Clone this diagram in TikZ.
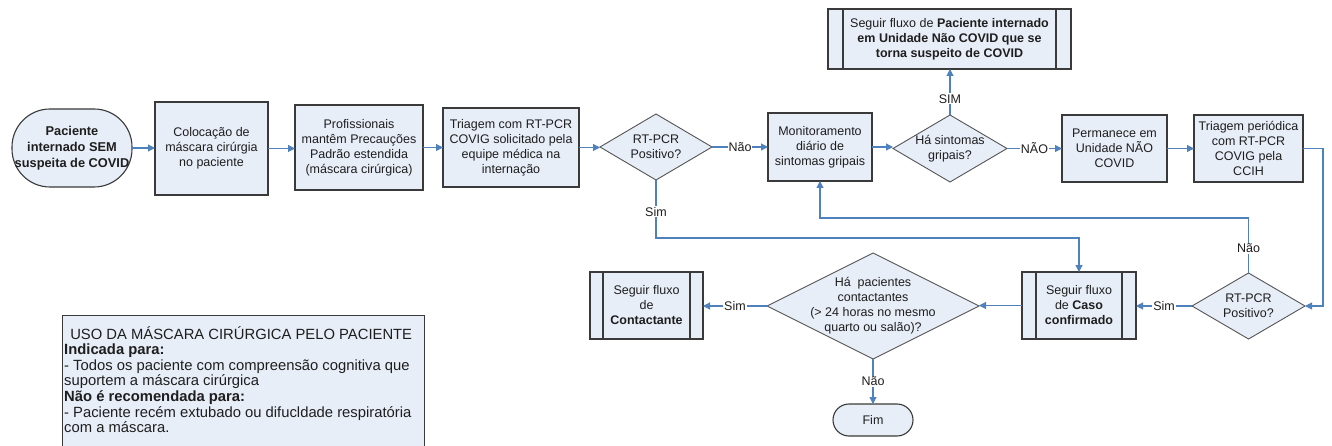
\documentclass[tikz,border=0pt]{standalone}
\usepackage{fontspec}
\setmainfont{Liberation Sans}
\usetikzlibrary{shapes.geometric,arrows.meta}
\definecolor{boxfill}{HTML}{E8EEF8}
\definecolor{boxline}{HTML}{3A3A3A}
\definecolor{diamline}{HTML}{555555}
\definecolor{arr}{HTML}{4F81BD}
\definecolor{txt}{HTML}{1E1E1E}
\begin{document}
\begin{tikzpicture}[x=1pt,y=-1pt,
  base/.style={draw=boxline, fill=boxfill, line width=1.1pt, text=txt,
    font=\fontsize{12.5}{15}\selectfont, align=center, inner sep=0pt, outer sep=0pt},
  proc/.style={base, rectangle},
  term/.style={base, rectangle, rounded corners=#1},
  subproc/.style={base, rectangle, path picture={
    \draw[boxline, line width=1.1pt]
      ([xshift=#1]path picture bounding box.north west) -- ([xshift=#1]path picture bounding box.south west)
      ([xshift=-#1]path picture bounding box.north east) -- ([xshift=-#1]path picture bounding box.south east);}},
  dia/.style={base, diamond, draw=diamline, line width=0.9pt},
  dtext/.style={text=txt, font=\fontsize{12.5}{15}\selectfont, align=center, inner sep=0pt},
  flow/.style={draw=arr, line width=1.1pt, -{Triangle[length=7pt,width=7pt]}},
  lab/.style={fill=white, inner sep=1pt, text=txt, font=\fontsize{12.5}{15}\selectfont},
  legtext/.style={text=txt, font=\fontsize{14.8}{15.6}\selectfont, align=left, inner sep=0pt},
  legbox/.style={draw=boxline, fill=boxfill, line width=1pt}
]
\clip (0,0) rectangle (1332,446);
\fill[white] (0,0) rectangle (1332,446);

% main row
\node[term=38pt, minimum width=120pt, minimum height=78pt, font=\fontsize{12.8}{16}\selectfont\bfseries]
  (start) at (72,148) {Paciente\\internado SEM\\suspeita de COVID};
\node[proc, minimum width=113pt, minimum height=93pt] (box1) at (211.5,148.5)
  {Colocação de\\máscara cirúrgia\\no paciente};
\node[proc, minimum width=128pt, minimum height=85pt] (box2) at (359,147.5)
  {Profissionais\\mantêm Precauções\\Padrão estendida\\(máscara cirúrgica)};
\node[proc, minimum width=136pt, minimum height=79pt] (box3) at (511,147.5)
  {Triagem com RT-PCR\\COVIG solicitado pela\\equipe médica na\\internação};
\node[dia, minimum width=112pt, minimum height=66pt,
  label={[dtext]center:{RT-PCR\\Positivo?}}] (d1) at (656,147) {};
\node[proc, minimum width=104pt, minimum height=68pt] (mon) at (820,147)
  {Monitoramento\\diário de\\sintomas gripais};
\node[dia, minimum width=114pt, minimum height=67pt,
  label={[dtext]center:{Há sintomas\\gripais?}}] (d2) at (950,148.5) {};
\node[subproc=15pt, minimum width=243pt, minimum height=60pt] (top) at (949.5,39)
  {Seguir fluxo de \textbf{Paciente internado}\\\textbf{em Unidade Não COVID que se}\\\textbf{torna suspeito de COVID}};
\node[proc, minimum width=105pt, minimum height=67pt] (perm) at (1114.5,148.5)
  {Permanece em\\Unidade NÃO\\COVID};
\node[proc, minimum width=109pt, minimum height=67pt] (tper) at (1248.5,148.5)
  {Triagem periódica\\com RT-PCR\\COVIG pela\\CCIH};

% bottom row
\node[dia, minimum width=113pt, minimum height=66pt,
  label={[dtext]center:{RT-PCR\\Positivo?}}] (d3) at (1248.5,306) {};
\node[subproc=14pt, minimum width=114pt, minimum height=67pt] (caso) at (1079,305.5)
  {Seguir fluxo\\de \textbf{Caso}\\\textbf{confirmado}};
\node[dia, minimum width=212pt, minimum height=106pt,
  label={[dtext]center:{Há\ \ pacientes\\contactantes\\(> 24 horas no mesmo\\quarto ou salão)?}}] (d4) at (873,306) {};
\node[subproc=13pt, minimum width=113pt, minimum height=67pt] (cont) at (646.5,305.5)
  {Seguir fluxo\\de\\\textbf{Contactante}};
\node[term=16pt, minimum width=80pt, minimum height=32pt] (fim) at (873,420) {Fim};

% legend
\draw[legbox] (62,315) rectangle (424,470);
\node[legtext, anchor=north west] (leg) at (64,326)
  {\makebox[354pt][c]{USO DA MÁSCARA CIRÚRGICA PELO PACIENTE}\\
   \textbf{Indicada para:}\\
   - Todos os paciente com compreensão cognitiva que\\
   suportem a máscara cirúrgica\\
   \textbf{Não é recomendada para:}\\
   - Paciente recém extubado ou difucldade respiratória\\
   com a máscara.};

% connectors
\coordinate (c12) at (1248.5,218);
\coordinate (c13) at (656,238);
\draw[flow] (start.east) -- (start.east -| box1.west);
\draw[flow] (box1.east) -- (box1.east -| box2.west);
\draw[flow] (box2.east) -- (box2.east -| box3.west);
\draw[flow] (box3.east) -- (box3.east -| d1.west);
\draw[flow] (d1.east) -- node[lab]{Não} (d1.east -| mon.west);
\draw[flow] (mon.east) -- (mon.east -| d2.west);
\draw[flow] (d2.north) -- node[lab, pos=0.35]{SIM} (d2.north |- top.south);
\draw[flow] (d2.east) -- node[lab]{NÃO} (d2.east -| perm.west);
\draw[flow] (perm.east) -- (perm.east -| tper.west);
\draw[flow] (tper.east) -- ++(20,0) |- (d3.east);
\draw[flow] (d3.west) -- node[lab]{Sim} (d3.west -| caso.east);
\draw[flow] (d3.north) -- node[lab, pos=0.45]{Não} (d3.north |- c12) -| (mon.south);
\draw[flow] (d1.south) -- node[lab, pos=0.55]{Sim} (c13) -| (caso.north);
\draw[flow] (caso.west) -- (caso.west -| d4.east);
\draw[flow] (d4.west) -- node[lab]{Sim} (d4.west -| cont.east);
\draw[flow] (d4.south) -- node[lab]{Não} (fim.north);
\end{tikzpicture}
\end{document}
